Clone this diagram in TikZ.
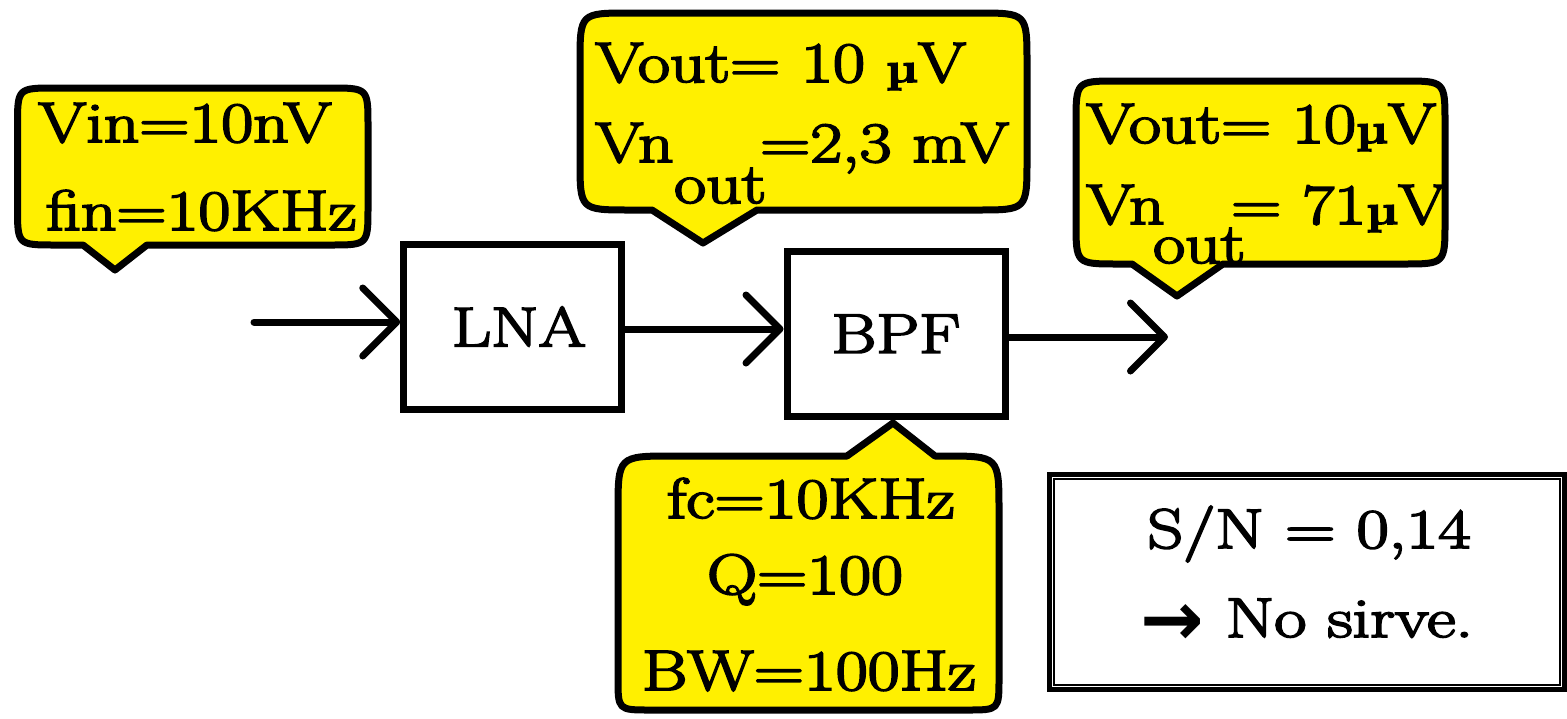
\documentclass[tikz,border=0pt]{standalone}
\usepackage{fontspec}
\usepackage{graphicx}
\newfontfamily\djb{DejaVu Sans}
\newfontfamily\hv{Latin Modern Roman}[FakeBold=3]
\usetikzlibrary{arrows.meta}
\definecolor{callyellow}{RGB}{255,240,0}
\newcommand\wtxt[1]{\scalebox{1.22}[1]{#1}}
\newcommand\sntxt[1]{\scalebox{1.25}[1]{#1}}
\newcommand\bigf{\hv\fontsize{57}{64}\selectfont}
\newcommand\blkf{\hv\fontsize{56}{64}\selectfont}
\newcommand\snf{\hv\fontsize{56}{64}\selectfont}
\newcommand\mub{{\fontsize{42}{48}\selectfont\bfseries µ}}
\newcommand\calloutdown[9]{%
  \path[callout] (#6,#4) -- (#8,#9) -- (#7,#4) -- ({#3-#5},#4)
    .. controls (#3,#4) .. (#3,{#4-#5}) -- (#3,{#2+#5})
    .. controls (#3,#2) .. ({#3-#5},#2) -- ({#1+#5},#2)
    .. controls (#1,#2) .. (#1,{#2+#5}) -- (#1,{#4-#5})
    .. controls (#1,#4) .. ({#1+#5},#4) -- cycle;}
\begin{document}
\begin{tikzpicture}[x=1pt,y=-1pt,
  callout/.style={draw=black, fill=callyellow, line width=7pt, line join=round},
  ctext/.style={inner sep=0pt, anchor=base west, font=\bigf},
  ctextc/.style={inner sep=0pt, anchor=base, font=\bigf},
  blk/.style={draw=black, line width=7pt, minimum width=218pt, minimum height=165pt, inner sep=0pt, font=\blkf},
  flow/.style={line width=7pt, line cap=round, -{Straight Barb[length=34pt,width=68pt,round]}}
]
\useasboundingbox (0,0) rectangle (1567,718);

% callouts
\calloutdown{17.5}{88}{368}{245}{38}{83}{147}{115}{270}
\calloutdown{580}{13}{1027}{210}{50}{652}{757}{703}{243}
\calloutdown{1076}{81}{1445}{264}{42}{1132}{1223}{1177}{296}
\path[callout] (847,456) -- (893,423) -- (935,456) -- (944,456)
  .. controls (999,456) .. (999,511) -- (999,678)
  .. controls (999,710) .. (967,710) -- (650,710)
  .. controls (618,710) .. (618,678) -- (618,511)
  .. controls (618,456) .. (673,456) -- cycle;

% callout texts
\node[ctext] (vin) at (38,142) {\wtxt{Vin=10nV}};
\node[ctext] (fin) at (46,230) {\wtxt{fin=10KHz}};

\node[ctext] (vout1) at (595,82) {\wtxt{Vout= 10 \mub V}};
\node[ctext] (vn1) at (595,162) {\wtxt{Vn}};
\node[ctext] (vnv1) at (760,162) {\wtxt{=2,3 mV}};
\node[ctext] (out1) at (674,203) {\wtxt{out}};

\node[ctext] (vout2) at (1086,143) {\wtxt{Vout= 10\mub V}};
\node[ctext] (vn2) at (1086,224) {\wtxt{Vn}};
\node[ctext] (vnv2) at (1231,224) {\wtxt{= 71\mub V}};
\node[ctext] (out2) at (1153,263) {\wtxt{out}};

\node[ctextc] (fc) at (811,518) {\wtxt{fc=10KHz}};
\node[ctextc] (q) at (805,594) {\wtxt{Q=100}};
\node[ctextc] (bw) at (809,690) {\wtxt{BW=100Hz}};

% blocks
\node[blk] (lna) at (512.75,326.5) {\wtxt{\hspace{10pt}LNA}};
\node[blk, minimum height=165.5pt] (bpf) at (896,333.75) {\wtxt{BPF}};

\coordinate (in) at (254,322);
\coordinate (out) at (1168,337);
\draw[flow] (in) -- (in -| lna.west);
\draw[flow] ([yshift=-2.5pt]lna.east) -- ([yshift=-2.5pt]lna.east -| bpf.west);
\draw[flow] ([yshift=-3.25pt]bpf.east) -- (out);

% S/N box
\node[draw=black, line width=5pt, minimum width=515pt, minimum height=214.5pt, inner sep=0pt] (snbox) at (1307,581.75) {};
\draw[line width=2pt] ([shift={(7,7)}]snbox.north west) rectangle ([shift={(-7,-7)}]snbox.south east);
\node[inner sep=0pt, anchor=base, font=\snf] (sn1) at (1309,548) {\sntxt{S/N = 0,14}};
\node[inner sep=0pt, anchor=base, font=\snf] (sn2) at (1307,637) {\raisebox{-8pt}{\djb\bfseries\fontsize{76}{76}\selectfont →}\sntxt{ No sirve.}};
\end{tikzpicture}
\end{document}
